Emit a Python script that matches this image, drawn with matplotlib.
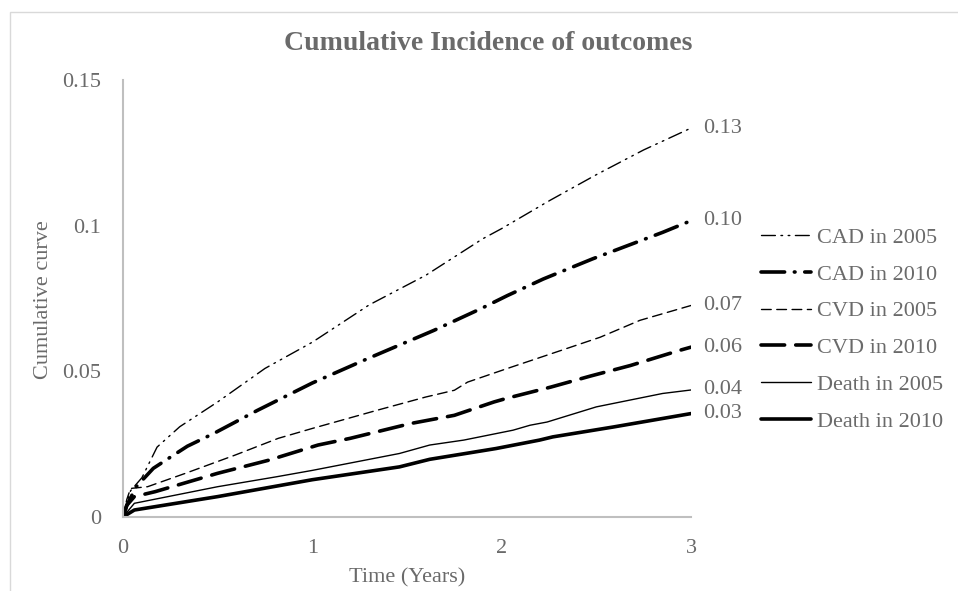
import matplotlib
matplotlib.use("Agg")
import matplotlib.pyplot as plt
from matplotlib.patches import Rectangle

plt.rcParams['font.family'] = ['Liberation Serif', 'DejaVu Serif']
plt.rcParams['lines.scale_dashes'] = False

# ---- data ----
t_cad05 = [0, 0.02, 0.04, 0.1, 0.18, 0.3, 0.5, 0.75, 1.0, 1.3, 1.6, 1.9, 2.0, 2.25, 2.5, 2.75, 3.0]
cad05 = [0, 0.005, 0.009, 0.0135, 0.024, 0.031, 0.0395, 0.051, 0.060, 0.0728, 0.083, 0.0955, 0.099, 0.1085, 0.1175, 0.126, 0.1335]

t_cad10 = [0, 0.02, 0.07, 0.16, 0.24, 0.34, 0.48, 0.71, 1.0, 1.29, 1.64, 1.89, 2.03, 2.22, 2.48, 2.85, 3.0]
cad10 = [0, 0.004, 0.0104, 0.0167, 0.0201, 0.0243, 0.0287, 0.0366, 0.046, 0.0543, 0.064, 0.0715, 0.076, 0.0817, 0.0886, 0.0977, 0.1017]

t_cvd05 = [0, 0.02, 0.04, 0.13, 0.33, 0.59, 0.82, 1.0, 1.34, 1.6, 1.75, 1.82, 2.04, 2.26, 2.52, 2.73, 3.0]
cvd05 = [0, 0.006, 0.0098, 0.0104, 0.015, 0.0212, 0.027, 0.0304, 0.0366, 0.0412, 0.0435, 0.0463, 0.0512, 0.056, 0.0617, 0.0675, 0.0726]

t_cvd10 = [0, 0.02, 0.06, 0.17, 0.5, 0.77, 1.03, 1.2, 1.52, 1.75, 1.96, 2.03, 2.26, 2.47, 2.68, 2.94, 3.0]
cvd10 = [0, 0.004, 0.007, 0.0087, 0.015, 0.0195, 0.0247, 0.027, 0.0321, 0.0349, 0.0395, 0.0408, 0.0446, 0.0484, 0.052, 0.0572, 0.0583]

t_death05 = [0, 0.06, 0.5, 0.81, 1.0, 1.46, 1.62, 1.8, 2.06, 2.15, 2.24, 2.5, 2.85, 3.0]
death05 = [0, 0.0047, 0.0104, 0.0138, 0.016, 0.0218, 0.0247, 0.0264, 0.0298, 0.0315, 0.0326, 0.0378, 0.0424, 0.0436]

t_death10 = [0, 0.06, 0.5, 1.0, 1.46, 1.62, 1.97, 2.2, 2.27, 2.59, 3.0]
death10 = [0, 0.0024, 0.007, 0.0128, 0.0172, 0.0198, 0.0235, 0.0264, 0.0275, 0.0309, 0.0355]

series_labels = ["CAD in 2005", "CAD in 2010", "CVD in 2005", "CVD in 2010", "Death in 2005", "Death in 2010"]
end_labels = ["0.13", "0.10", "0.07", "0.06", "0.04", "0.03"]
x_ticks = [0, 1, 2, 3]
x_tick_labels = ["0", "1", "2", "3"]
y_ticks = [0, 0.05, 0.1, 0.15]
y_tick_labels = ["0", "0.05", "0.1", "0.15"]

GREY = "#6a6a6a"
AXGREY = "#bfbfbf"

W, H = 958, 591
fig = plt.figure(figsize=(W / 100, H / 100), dpi=100)
fig.patch.set_facecolor("white")

# chart-area border
fig.patches.append(Rectangle((10 / W, -0.1), 1.2, 1.1 - 11.5 / H,
                             transform=fig.transFigure, fill=False,
                             edgecolor="#d9d9d9", linewidth=1.0))

ax = fig.add_axes([123 / W, 1 - 517 / H, (691 - 123) / W, (517 - 80) / H])

styles = [
    dict(lw=1.0, ls=(0, (10, 4, 1.2, 4, 1.2, 4))),
    dict(lw=2.6, ls=(0, (17, 7, 0.5, 7))),
    dict(lw=1.0, ls=(0, (7, 4))),
    dict(lw=2.6, ls=(0, (17, 8))),
    dict(lw=1.0, ls="-"),
    dict(lw=2.6, ls="-"),
]
data = [(t_cad05, cad05), (t_cad10, cad10), (t_cvd05, cvd05),
        (t_cvd10, cvd10), (t_death05, death05), (t_death10, death10)]

lines = []
for (t, v), st, lab in zip(data, styles, series_labels):
    ln, = ax.plot(t, v, color="black", linewidth=st["lw"], linestyle=st["ls"],
                  dash_capstyle="round", solid_capstyle="round", label=lab)
    lines.append(ln)

# end-of-line data labels
for (t, v), txt in zip(data, end_labels):
    ax.annotate(txt, xy=(t[-1], v[-1]), xytext=(12, 0), textcoords="offset pixels",
                ha="left", va="center", fontsize=16, color=GREY, annotation_clip=False)

ax.set_xlim(0, 3)
ax.set_ylim(0, 0.15)
ax.set_xticks(x_ticks)
ax.set_xticklabels(x_tick_labels)
ax.set_yticks(y_ticks)
ax.set_yticklabels(y_tick_labels)
ax.tick_params(axis="both", length=0, labelsize=16, labelcolor=GREY)
ax.tick_params(axis="x", pad=16)
ax.tick_params(axis="y", pad=16)

for s in ["top", "right"]:
    ax.spines[s].set_visible(False)
for s in ["left", "bottom"]:
    ax.spines[s].set_color(AXGREY)
    ax.spines[s].set_linewidth(1.5)

fig.text(44 / W, 1 - 300 / H, "Cumulative curve", rotation=90, ha="center", va="center",
         fontsize=16, color=GREY)
fig.text(407 / W, 1 - 578 / H, "Time (Years)", ha="center", va="center",
         fontsize=16, color=GREY)
fig.text(488 / W, 1 - 44 / H, "Cumulative Incidence of outcomes", ha="center", va="center",
         fontsize=20, fontweight="bold", color=GREY)

leg = fig.legend(handles=lines, labels=series_labels, loc="center left",
                 bbox_to_anchor=(761 / W, 1 - 329.5 / H), frameon=False,
                 fontsize=16, labelcolor=GREY, handlelength=2.25, handletextpad=0.25,
                 labelspacing=0.73, borderpad=0, borderaxespad=0)

fig.savefig("out.png", dpi=100, facecolor="white")
